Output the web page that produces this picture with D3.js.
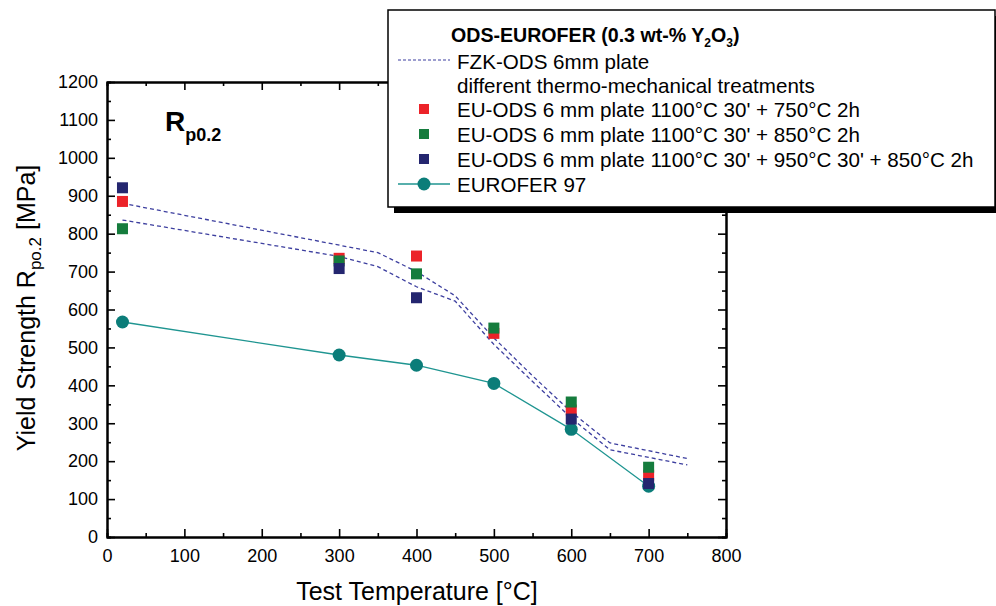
<!DOCTYPE html>
<html>
<head>
<meta charset="utf-8">
<script src="https://cdn.jsdelivr.net/npm/d3@7"></script>
<style>
  html, body { margin: 0; padding: 0; background: #fff; }
  svg { display: block; font-family: "Liberation Sans", Arial, sans-serif; }
</style>
</head>
<body>
<svg id="chart" width="996" height="606"></svg>
<script>
// Yield strength Rp0.2 of ODS-EUROFER variants vs. EUROFER 97
const xTicks = [0, 100, 200, 300, 400, 500, 600, 700, 800];
const yTicks = [0, 100, 200, 300, 400, 500, 600, 700, 800, 900, 1000, 1100, 1200];

// FZK-ODS 6mm plate scatter band (upper and lower bounds)
const fzkUpperT = [20, 350, 400, 450, 500, 550, 600, 650, 750];
const fzkUpperY = [880, 750, 700, 636, 525, 425, 330, 248, 207];
const fzkLowerT = [20, 300, 350, 400, 450, 500, 550, 600, 650, 750];
const fzkLowerY = [836, 740, 713, 660, 622, 508, 410, 314, 230, 190];

// EU-ODS 6 mm plate, three heat treatments
const ods750T = [20, 300, 400, 500, 600, 700];
const ods750Y = [885, 735, 741, 537, 335, 163];
const ods850T = [20, 300, 400, 500, 600, 700];
const ods850Y = [813, 728, 694, 551, 356, 184];
const ods950T = [20, 300, 400, 600, 700];
const ods950Y = [921, 708, 631, 311, 141];

// EUROFER 97 reference
const eurT = [20, 300, 400, 500, 600, 700];
const eurY = [567, 480, 453, 405, 284, 134];

const colors = {
  red: "#ec2329",
  green: "#157c3d",
  navy: "#24266f",
  teal: "#0b7d79",
  tealLine: "#1f9591",
  dash: "#3d3f9f"
};

const svg = d3.select("#chart");
const x = d3.scaleLinear().domain([0, 800]).range([107, 726]);
const y = d3.scaleLinear().domain([0, 1200]).range([537, 82]);

const minorX = d3.range(0, 801, 50).filter(v => v % 100 !== 0);
const minorY = d3.range(0, 1201, 50).filter(v => v % 100 !== 0);
const fmt = d3.format("d");

function styleAxis(g) {
  g.select(".domain").attr("stroke", "#000").attr("stroke-width", 2);
  g.selectAll(".tick line").attr("stroke", "#000").attr("stroke-width", 1.6);
}

// minor ticks (inward)
const minorG = svg.append("g");
minorG.append("g").attr("transform", `translate(0,${y(0)})`)
  .call(d3.axisBottom(x).tickValues(minorX).tickSize(-4).tickFormat(""))
  .call(styleAxis);
minorG.append("g").attr("transform", `translate(0,${y(1200)})`)
  .call(d3.axisTop(x).tickValues(minorX).tickSize(-4).tickFormat(""))
  .call(styleAxis);
minorG.append("g").attr("transform", `translate(${x(0)},0)`)
  .call(d3.axisLeft(y).tickValues(minorY).tickSize(-4).tickFormat(""))
  .call(styleAxis);
minorG.append("g").attr("transform", `translate(${x(800)},0)`)
  .call(d3.axisRight(y).tickValues(minorY).tickSize(-4).tickFormat(""))
  .call(styleAxis);

// major ticks with labels
const xAxis = svg.append("g").attr("transform", `translate(0,${y(0)})`)
  .call(d3.axisBottom(x).tickValues(xTicks).tickFormat(fmt).tickSizeInner(-8).tickSizeOuter(0).tickPadding(12))
  .call(styleAxis);
xAxis.selectAll(".tick text").attr("font-size", 18).attr("fill", "#000")
  .attr("font-family", "Liberation Sans, Arial, sans-serif");

const yAxis = svg.append("g").attr("transform", `translate(${x(0)},0)`)
  .call(d3.axisLeft(y).tickValues(yTicks).tickFormat(fmt).tickSizeInner(-8).tickSizeOuter(0).tickPadding(9))
  .call(styleAxis);
yAxis.selectAll(".tick text").attr("font-size", 18).attr("fill", "#000")
  .attr("font-family", "Liberation Sans, Arial, sans-serif");

svg.append("g").attr("transform", `translate(0,${y(1200)})`)
  .call(d3.axisTop(x).tickValues(xTicks).tickSizeInner(-8).tickSizeOuter(0).tickFormat(""))
  .call(styleAxis);
svg.append("g").attr("transform", `translate(${x(800)},0)`)
  .call(d3.axisRight(y).tickValues(yTicks).tickSizeInner(-8).tickSizeOuter(0).tickFormat(""))
  .call(styleAxis);

// axis titles
svg.append("text")
  .attr("x", 417).attr("y", 600)
  .attr("text-anchor", "middle").attr("font-size", 25).attr("fill", "#000")
  .text("Test Temperature [°C]");

const yTitle = svg.append("text")
  .attr("transform", "translate(35,308) rotate(-90)")
  .attr("text-anchor", "middle").attr("font-size", 25).attr("fill", "#000");
yTitle.append("tspan").text("Yield Strength R");
yTitle.append("tspan").attr("font-size", 17).attr("dy", 6).text("po.2");
yTitle.append("tspan").attr("dy", -6).text(" [MPa]");

// panel label
const panel = svg.append("text").attr("x", 165).attr("y", 131)
  .attr("font-weight", "bold").attr("font-size", 28).attr("fill", "#000");
panel.append("tspan").text("R");
panel.append("tspan").attr("font-size", 18).attr("dy", 10).text("p0.2");

// FZK-ODS dashed bounds
const line = d3.line().x(d => x(d[0])).y(d => y(d[1]));
[[fzkUpperT, fzkUpperY], [fzkLowerT, fzkLowerY]].forEach(([t, v]) => {
  svg.append("path")
    .datum(d3.zip(t, v))
    .attr("d", line)
    .attr("fill", "none")
    .attr("stroke", colors.dash)
    .attr("stroke-width", 1.3)
    .attr("stroke-dasharray", "4,3");
});

// EUROFER 97 line + circles
const eur = d3.zip(eurT, eurY);
svg.append("path").datum(eur).attr("d", line)
  .attr("fill", "none").attr("stroke", colors.tealLine).attr("stroke-width", 1.3);
svg.append("g").selectAll("circle").data(eur).join("circle")
  .attr("cx", d => x(d[0])).attr("cy", d => y(d[1])).attr("r", 6.5)
  .attr("fill", colors.teal);

// EU-ODS squares (drawn red, green, navy)
const sq = 11;
[[ods750T, ods750Y, colors.red], [ods850T, ods850Y, colors.green], [ods950T, ods950Y, colors.navy]]
  .forEach(([t, v, c]) => {
    svg.append("g").selectAll("rect").data(d3.zip(t, v)).join("rect")
      .attr("x", d => x(d[0]) - sq / 2).attr("y", d => y(d[1]) - sq / 2)
      .attr("width", sq).attr("height", sq).attr("fill", c);
  });

// legend
const lg = svg.append("g");
const lx = 388, ly = 10, lw = 607, lh = 197;
lg.append("rect").attr("x", lx + 6).attr("y", ly + 6).attr("width", lw).attr("height", lh).attr("fill", "#000");
lg.append("rect").attr("x", lx).attr("y", ly).attr("width", lw).attr("height", lh)
  .attr("fill", "#fff").attr("stroke", "#000").attr("stroke-width", 1.5);

const textX = 457, markX = 424, fs = 20.6;
const title = lg.append("text").attr("x", 451).attr("y", 42)
  .attr("font-weight", "bold").attr("font-size", 19.6).attr("fill", "#000");
title.append("tspan").text("ODS-EUROFER (0.3 wt-% Y");
title.append("tspan").attr("font-size", 12).attr("dy", 5).text("2");
title.append("tspan").attr("dy", -5).text("O");
title.append("tspan").attr("font-size", 12).attr("dy", 5).text("3");
title.append("tspan").attr("dy", -5).text(")");

const legendRows = [
  { label: "FZK-ODS 6mm plate", type: "dash", yb: 69 },
  { label: "different thermo-mechanical treatments", type: "none", yb: 93 },
  { label: "EU-ODS 6 mm plate 1100°C 30' + 750°C 2h", type: "sq", color: colors.red, yb: 117 },
  { label: "EU-ODS 6 mm plate 1100°C 30' + 850°C 2h", type: "sq", color: colors.green, yb: 142 },
  { label: "EU-ODS 6 mm plate 1100°C 30' + 950°C 30' + 850°C 2h", type: "sq", color: colors.navy, yb: 167 },
  { label: "EUROFER 97", type: "circ", yb: 192 }
];
legendRows.forEach(r => {
  const cy = r.yb - 8;
  if (r.type === "dash") {
    lg.append("line").attr("x1", 398).attr("x2", 450).attr("y1", cy - 1).attr("y2", cy - 1)
      .attr("stroke", colors.dash).attr("stroke-width", 1.2).attr("stroke-dasharray", "3,2");
  } else if (r.type === "sq") {
    lg.append("rect").attr("x", markX - 5).attr("y", cy - 5).attr("width", 10).attr("height", 10)
      .attr("fill", r.color);
  } else if (r.type === "circ") {
    lg.append("line").attr("x1", 398).attr("x2", 450).attr("y1", cy).attr("y2", cy)
      .attr("stroke", colors.tealLine).attr("stroke-width", 1.3);
    lg.append("circle").attr("cx", markX).attr("cy", cy).attr("r", 6.5).attr("fill", colors.teal);
  }
  lg.append("text").attr("x", textX).attr("y", r.yb).attr("font-size", fs).attr("fill", "#000")
    .text(r.label);
});
</script>
</body>
</html>
